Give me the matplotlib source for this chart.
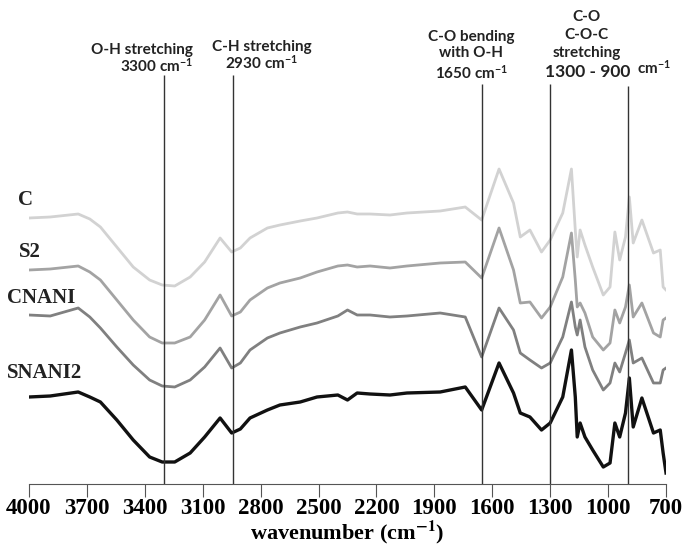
import numpy as np
import matplotlib.pyplot as plt

plt.rcParams['mathtext.fontset'] = 'custom'
plt.rcParams['mathtext.rm'] = 'Lato:bold'
plt.rcParams['mathtext.bf'] = 'Lato:bold'
plt.rcParams['mathtext.it'] = 'Lato:bold'

# wavenumbers (cm-1)
wavenumber = [4000, 3890, 3745, 3685, 3630, 3545, 3460, 3375, 3310, 3245,
              3165, 3090, 3010, 2950, 2905, 2855, 2765, 2700, 2595, 2508,
              2400, 2350, 2300, 2233, 2130, 2042, 1870, 1740, 1655, 1565,
              1490, 1455, 1405, 1345, 1300, 1235, 1190, 1170, 1160, 1145,
              1120, 1080, 1025, 990, 965, 940, 910, 890, 870, 825,
              765, 730, 715, 700]

# stacked spectra, arbitrary units (offset traces)
C = [266, 267, 270, 265, 257, 237, 217, 204, 199, 198,
     207, 222, 246, 232, 236, 246, 256, 259, 263, 266,
     271, 272, 270, 270, 269, 271, 273, 277, 264, 315,
     281, 247, 254, 232, 244, 271, 315, 254, 227, 254,
     239, 217, 189, 197, 252, 224, 247, 287, 241, 264,
     231, 234, 197, 194]
S2 = [214, 215, 218, 212, 204, 184, 164, 147, 141, 141,
      147, 164, 189, 168, 172, 184, 196, 201, 206, 212,
      218, 219, 217, 218, 216, 218, 221, 222, 206, 256,
      214, 181, 182, 166, 177, 207, 251, 204, 177, 181,
      171, 147, 134, 141, 174, 161, 177, 199, 167, 181,
      151, 147, 164, 166]
CNANI = [169, 168, 176, 167, 156, 137, 119, 104, 98, 97,
         104, 117, 136, 116, 121, 134, 146, 151, 157, 161,
         168, 174, 169, 169, 167, 168, 171, 167, 127, 176,
         154, 131, 124, 116, 121, 147, 182, 157, 149, 164,
         137, 114, 94, 101, 121, 112, 131, 144, 121, 126,
         101, 101, 114, 116]
SNANI2 = [87, 88, 92, 87, 82, 64, 44, 27, 22, 22,
          31, 47, 66, 51, 55, 66, 74, 79, 82, 87,
          89, 84, 91, 90, 89, 91, 92, 97, 74, 121,
          91, 71, 67, 54, 61, 87, 134, 87, 47, 61,
          47, 34, 17, 21, 61, 47, 71, 106, 57, 86,
          51, 54, 31, 11]

names = ['C', 'S2', 'CNANI', 'SNANI2']
colors = ['#d2d2d2', '#a3a3a3', '#808080', '#111111']
widths = [2.0, 2.0, 2.0, 2.4]

band_lines = [3300, 2945, 1655, 1300, 895]
line_tops = [409, 409, 400, 400, 398]

ticks = [4000, 3700, 3400, 3100, 2800, 2500, 2200, 1900, 1600, 1300, 1000, 700]

fig = plt.figure(figsize=(6.85, 5.49), dpi=100)
ax = fig.add_axes([0.0423, 0.1184, 0.93, 0.8816])

for ys, c, lw in zip([C, S2, CNANI, SNANI2], colors, widths):
    ax.plot(wavenumber, ys, color=c, lw=lw, solid_joinstyle='round')

ax.vlines(band_lines, 0, line_tops, color='#333333', lw=1.0)

ax.set_xlim(4000, 700)
ax.set_ylim(0, 484)
ax.set_xticks(ticks)
ax.set_xticklabels([str(t) for t in ticks], fontfamily='Liberation Serif',
                   fontweight='bold', fontsize=16.5)
ax.set_yticks([])
for s in ['left', 'top', 'right']:
    ax.spines[s].set_visible(False)
ax.spines['bottom'].set_color('#555555')
ax.tick_params(axis='x', direction='out', length=9, color='#555555', pad=1)
ax.set_xlabel('wavenumber (cm$^{\\mathbf{-1}}$)', fontfamily='Liberation Serif',
              fontweight='bold', fontsize=16, math_fontfamily='stix', labelpad=0)

# sample names on the left
lab = dict(fontfamily='Liberation Serif', fontweight='bold', fontsize=15,
           color='#222222', va='center')
fig.text(0.027, 1 - 200 / 549, names[0], **lab)
fig.text(0.027, 1 - 252 / 549, names[1], **lab)
fig.text(0.010, 1 - 298 / 549, names[2], **lab)
fig.text(0.010, 1 - 373 / 549, names[3], **lab)

# band annotations
ann = dict(fontfamily='Lato', fontweight='bold', fontsize=11, color='#222222')
ax.text(3150, 409, 'O-H stretching\n3300 cm$^{-1}$', ha='right', va='bottom',
        multialignment='right', linespacing=1.0, **ann)
ax.text(2793, 412, 'C-H stretching\n2930 cm$^{-1}$', ha='center', va='bottom',
        multialignment='center', linespacing=1.0, **ann)
ax.text(1710, 402, 'C-O bending\nwith O-H\n1650 cm$^{-1}$', ha='center', va='bottom',
        multialignment='center', linespacing=1.25, **ann)
ax.text(1110, 424, 'C-O\nC-O-C\nstretching', ha='center', va='bottom',
        multialignment='center', linespacing=1.35, **ann)
ax.text(1104, 404, '1300 - 900', ha='center', va='bottom',
        fontfamily='Lato', fontweight='bold', fontsize=12.5, color='#222222')
ax.text(850, 407, 'cm$^{-1}$', ha='left', va='bottom', **ann)

fig.savefig('out.png', dpi=100)
